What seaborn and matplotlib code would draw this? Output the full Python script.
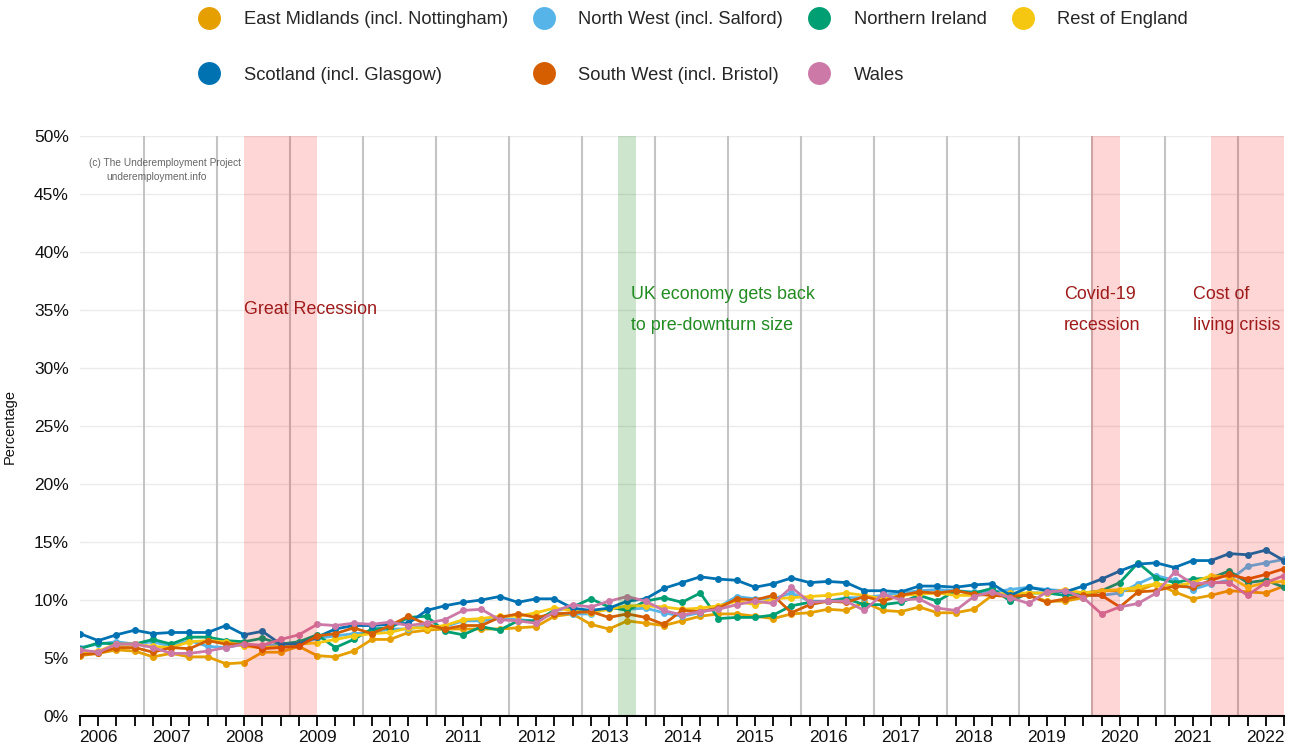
import numpy as np
import pandas as pd
import matplotlib
matplotlib.use("Agg")
import matplotlib.pyplot as plt
from matplotlib.lines import Line2D
import seaborn as sns

# quarterly observations, 2005 Q4 .. 2022 Q2
quarters = pd.period_range("2005Q4", "2022Q2", freq="Q")

regions = [
    "East Midlands (incl. Nottingham)",
    "North West (incl. Salford)",
    "Northern Ireland",
    "Rest of England",
    "Scotland (incl. Glasgow)",
    "South West (incl. Bristol)",
    "Wales",
]
colors = ["#E69F00", "#56B4E9", "#009E73", "#F5C710", "#0072B2", "#D55E00", "#CC79A7"]

east_midlands = [
    5.2, 5.4, 5.7, 5.6, 5.1, 5.4, 5.1, 5.1, 4.5, 4.6, 5.5, 5.5, 6.0, 5.2, 5.1, 5.6, 6.6, 6.6,
    7.2, 7.4, 7.5, 7.5, 7.5, 7.5, 7.6, 7.7, 8.6, 8.8, 7.9, 7.5, 8.2, 8.0, 7.8, 8.2, 8.6,
    8.8, 8.8, 8.6, 8.4, 8.8, 8.9, 9.2, 9.1, 9.8, 9.1, 9.0, 9.4, 8.9, 8.9, 9.2, 10.4,
    10.4, 10.4, 9.9, 9.9, 10.2, 10.8, 10.8, 10.8, 11.4, 10.7, 10.1, 10.4, 10.8, 10.7, 10.6, 11.2,
]
north_west = [
    5.9, 6.2, 6.4, 6.2, 6.4, 6.0, 6.5, 6.0, 5.9, 6.2, 6.0, 6.2, 6.2, 6.7, 6.9, 7.1, 7.2, 7.5,
    7.5, 7.8, 7.7, 8.2, 8.2, 8.4, 8.3, 8.2, 8.9, 8.8, 8.8, 9.3, 9.2, 9.3, 8.9, 8.6, 8.9,
    9.4, 10.3, 10.1, 10.1, 10.6, 9.9, 9.9, 10.2, 10.2, 10.4, 10.6, 10.8, 10.9, 10.8, 10.7, 10.7,
    10.9, 11.1, 10.9, 10.8, 10.4, 10.4, 10.6, 11.4, 12.1, 11.7, 10.9, 11.4, 11.7, 12.9, 13.2, 13.5,
]
northern_ireland = [
    5.8, 6.3, 6.2, 6.2, 6.6, 6.2, 6.8, 6.8, 6.5, 6.4, 6.7, 6.2, 6.4, 7.0, 5.9, 6.6, 7.5, 7.6,
    8.5, 8.6, 7.3, 7.0, 7.7, 7.4, 8.2, 8.2, 9.1, 9.4, 10.1, 9.4, 9.1, 9.9, 10.2, 9.8, 10.6,
    8.4, 8.5, 8.5, 8.7, 9.5, 9.8, 9.9, 10.1, 9.6, 9.6, 9.8, 10.4, 9.9, 10.8, 10.6, 11.0,
    9.9, 10.6, 10.6, 10.4, 10.6, 10.8, 11.5, 13.2, 11.9, 11.5, 11.8, 11.9, 12.5, 11.5, 11.7, 11.1,
]
rest_of_england = [
    5.5, 5.6, 6.2, 6.2, 6.0, 5.9, 6.4, 6.5, 6.4, 6.0, 5.9, 6.0, 6.2, 6.3, 6.6, 6.9, 7.1, 7.2,
    7.6, 7.6, 7.8, 8.3, 8.4, 8.6, 8.6, 8.9, 9.3, 9.1, 8.9, 9.2, 9.5, 9.5, 9.4, 9.2, 9.3,
    9.5, 9.9, 9.6, 10.1, 10.2, 10.3, 10.4, 10.6, 10.4, 10.1, 10.4, 10.5, 10.6, 10.4, 10.4, 10.5,
    10.6, 10.6, 10.6, 10.9, 10.6, 10.8, 10.9, 11.1, 11.4, 11.2, 11.5, 12.1, 12.0, 11.1, 11.5, 11.6,
]
scotland = [
    7.1, 6.5, 7.0, 7.4, 7.1, 7.2, 7.2, 7.2, 7.8, 7.0, 7.3, 6.2, 6.2, 6.8, 7.5, 7.8, 7.8, 7.9,
    8.0, 9.1, 9.5, 9.8, 10.0, 10.3, 9.8, 10.1, 10.1, 9.3, 9.1, 9.3, 9.9, 10.1, 11.0, 11.5, 12.0,
    11.8, 11.7, 11.1, 11.4, 11.9, 11.5, 11.6, 11.5, 10.8, 10.8, 10.7, 11.2, 11.2, 11.1, 11.3, 11.4,
    10.4, 11.1, 10.8, 10.7, 11.2, 11.8, 12.5, 13.1, 13.2, 12.8, 13.4, 13.4, 14.0, 13.9, 14.3, 13.4,
]
south_west = [
    5.3, 5.4, 5.9, 5.9, 5.5, 5.9, 5.8, 6.5, 6.2, 6.2, 5.8, 5.9, 6.0, 6.9, 7.1, 7.6, 7.1, 7.8,
    8.6, 7.9, 7.5, 7.8, 7.8, 8.5, 8.8, 8.5, 8.8, 8.9, 9.0, 8.5, 8.8, 8.5, 7.9, 9.1, 9.0,
    9.3, 10.1, 10.0, 10.4, 8.9, 9.6, 9.9, 9.8, 10.3, 9.9, 10.4, 10.7, 10.6, 10.8, 10.5, 10.4,
    10.3, 10.4, 9.8, 10.1, 10.4, 10.4, 9.4, 10.7, 10.8, 11.2, 11.1, 11.7, 12.2, 11.8, 12.2, 12.7,
]
wales = [
    5.7, 5.5, 6.2, 6.2, 5.9, 5.4, 5.4, 5.6, 5.9, 6.2, 6.1, 6.6, 7.0, 7.9, 7.8, 8.0, 7.9, 8.1,
    7.8, 8.0, 8.3, 9.1, 9.2, 8.3, 8.2, 8.0, 9.0, 9.6, 9.4, 9.9, 10.3, 9.9, 9.1, 8.7, 9.0,
    9.2, 9.6, 9.9, 9.7, 11.1, 9.8, 9.9, 9.9, 9.1, 10.5, 10.0, 10.1, 9.3, 9.1, 10.3, 10.7,
    10.2, 9.7, 10.7, 10.8, 10.2, 8.8, 9.4, 9.7, 10.6, 12.4, 11.4, 11.5, 11.5, 10.4, 11.5, 12.1,
]

series = [east_midlands, north_west, northern_ireland, rest_of_england,
          scotland, south_west, wales]

# shaded periods (start, end) in decimal years
recessions = [(2008.0, 2009.0), (2019.6, 2020.0), (2021.25, 2022.25)]
recovery = (2013.12, 2013.37)
# thin grey markers every year
year_marks = [y + 0.625 for y in range(2006, 2022)]


def build_frame():
    year = quarters.year + (quarters.quarter - 1) / 4
    frames = []
    for name, vals in zip(regions, series):
        frames.append(pd.DataFrame({"year": np.asarray(year, dtype=float),
                                    "share": vals, "region": name}))
    return pd.concat(frames, ignore_index=True)


def main():
    sns.set_theme(style="white")
    plt.rcParams["font.family"] = ["Liberation Sans", "DejaVu Sans"]

    df = build_frame()

    fig = plt.figure(figsize=(12.94, 7.48), dpi=100)
    ax = fig.add_axes([80 / 1294, 32 / 748, 1204 / 1294, 580 / 748])

    sns.lineplot(
        data=df, x="year", y="share", hue="region", hue_order=regions,
        palette=colors, marker="o", markersize=5, markeredgewidth=0,
        linewidth=2, errorbar=None, legend=False, ax=ax, zorder=3,
    )

    for x in year_marks:
        ax.axvline(x, color="#c4c4c4", lw=1.5, zorder=2)
    for a, b in recessions:
        ax.axvspan(a, b, color="red", alpha=0.16, lw=0, zorder=4)
    ax.axvspan(*recovery, color="green", alpha=0.2, lw=0, zorder=4)

    red_txt = "#9E1B1B"
    green_txt = "#228B22"
    fs = 12.9
    ax.text(2008.0, 35.0, "Great Recession", color=red_txt, fontsize=fs, va="center", zorder=5)
    ax.text(2013.3, 36.3, "UK economy gets back", color=green_txt, fontsize=fs, va="center", zorder=5)
    ax.text(2013.3, 33.7, "to pre-downturn size", color=green_txt, fontsize=fs, va="center", zorder=5)
    ax.text(2019.23, 36.3, "Covid-19", color=red_txt, fontsize=fs, va="center", zorder=5)
    ax.text(2019.23, 33.7, "recession", color=red_txt, fontsize=fs, va="center", zorder=5)
    ax.text(2021.0, 36.3, "Cost of", color=red_txt, fontsize=fs, va="center", zorder=5)
    ax.text(2021.0, 33.7, "living crisis", color=red_txt, fontsize=fs, va="center", zorder=5)

    ax.text(2005.88, 47.65, "(c) The Underemployment Project", color="#666666",
            fontsize=7.3, va="center", zorder=5)
    ax.text(2006.11, 46.45, "underemployment.info", color="#666666",
            fontsize=7.3, va="center", zorder=5)

    ax.set_xlim(2005.75, 2022.25)
    ax.set_ylim(0, 50)
    ax.set_xticks(range(2006, 2023))
    ax.set_xticklabels([str(y) for y in range(2006, 2023)])
    ax.set_xticks(np.asarray(quarters.year + (quarters.quarter - 1) / 4, dtype=float), minor=True)
    ax.set_yticks(range(0, 51, 5))
    ax.set_yticklabels([f"{v}%" for v in range(0, 51, 5)])
    ax.tick_params(axis="x", which="both", direction="out", length=7, width=1.3,
                   color="black", bottom=True, labelsize=12.5, pad=3, labelcolor="#111111")
    ax.tick_params(axis="y", length=0, labelsize=12.5, pad=8, labelcolor="#111111")

    ax.yaxis.grid(True, color="#ebebeb", lw=1)
    ax.xaxis.grid(False)
    for side in ["left", "right", "top"]:
        ax.spines[side].set_visible(False)
    ax.spines["bottom"].set_color("black")
    ax.spines["bottom"].set_linewidth(1.5)
    ax.spines["bottom"].set_zorder(6)

    ax.set_xlabel("")
    ax.set_ylabel("Percentage", fontsize=10.5, color="#111111")
    ax.yaxis.set_label_coords(-(80 - 17) / 1204, 0.5)

    # legend, row-major order like the original (matplotlib fills column-wise)
    order = [0, 4, 1, 5, 2, 6, 3]
    handles = [Line2D([], [], ls="none", marker="o", markersize=16.5,
                      markerfacecolor=colors[i], markeredgewidth=0) for i in order]
    labels = [regions[i] for i in order]
    fig.legend(handles, labels, loc="upper left", bbox_to_anchor=(200 / 1294, 1 - 11 / 748),
               ncol=4, frameon=False, fontsize=13.2, handlelength=1.0, handletextpad=1.38,
               columnspacing=1.47, labelspacing=2.12, borderpad=0, borderaxespad=0)

    fig.savefig("out.png", dpi=100)
    plt.close(fig)


if __name__ == "__main__":
    main()
